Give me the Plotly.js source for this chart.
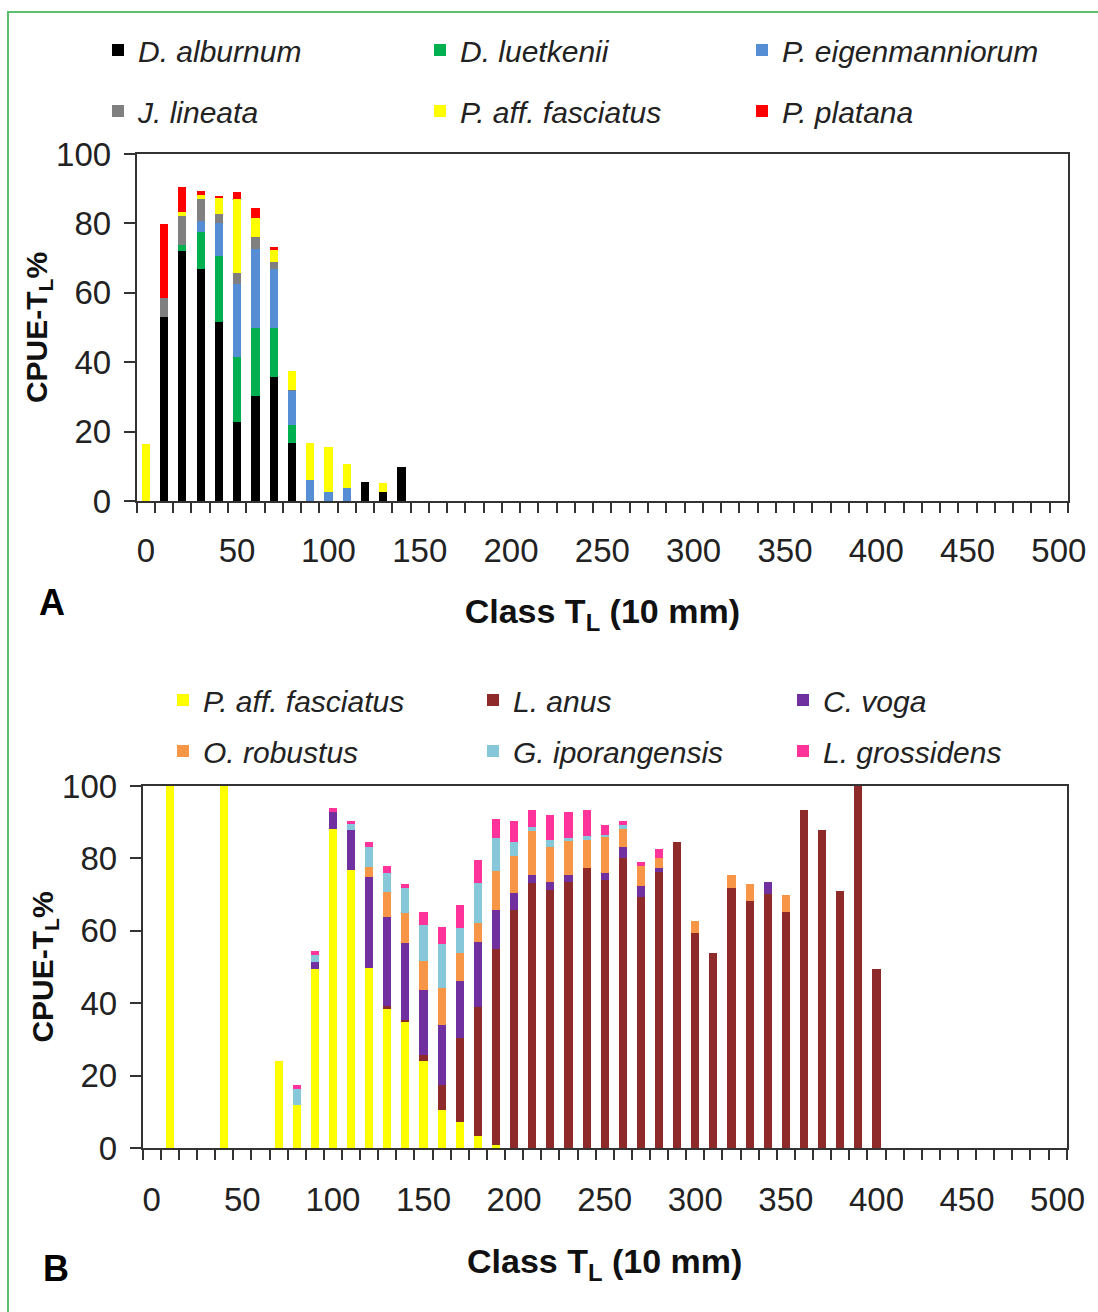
<!DOCTYPE html>
<html>
<head>
<meta charset="utf-8">
<script src="https://cdn.plot.ly/plotly-3.0.1.min.js"></script>
<style>
  html, body { margin: 0; padding: 0; background: #ffffff; }
  #chart { width: 1098px; height: 1312px; }
</style>
</head>
<body>
<div id="chart"></div>
<script>
// ---------- Panel A data ----------
const classesA = [0, 10, 20, 30, 40, 50, 60, 70, 80, 90, 100, 110, 120, 130, 140];
const dAlburnum        = [0, 53, 72, 67, 51.6, 22.9, 30.2, 35.7, 16.7, 0, 0, 0, 5.6, 2.6, 9.9];
const dLuetkenii       = [0, 0, 1.8, 10.5, 19.1, 18.7, 19.7, 14.2, 5.1, 0, 0, 0, 0, 0, 0];
const pEigenmanniorum  = [0, 0, 0, 3.2, 9.5, 20.8, 22.7, 17, 10, 6.1, 2.6, 3.8, 0, 0, 0];
const jLineata         = [0, 5.5, 8.4, 6.2, 2.6, 3.3, 3.5, 1.9, 0.3, 0, 0, 0, 0, 0, 0];
const pFasciatusA      = [16.4, 0, 1, 1.4, 4.5, 21.3, 5.5, 3.6, 5.5, 10.6, 13, 6.9, 0, 2.5, 0];
const pPlatana         = [0, 21.4, 7.4, 0.9, 0.7, 2, 2.7, 0.8, 0, 0, 0, 0, 0, 0, 0];

// ---------- Panel B data ----------
const classesB = [0, 10, 20, 30, 40, 50, 60, 70, 80, 90, 100, 110, 120, 130, 140, 150, 160, 170, 180, 190,
                  200, 210, 220, 230, 240, 250, 260, 270, 280, 290, 300, 310, 320, 330, 340, 350, 360, 370, 380, 390, 400];
const pFasciatusB   = [0, 100, 0, 0, 100, 0, 0, 24.1, 11.9, 49.5, 88, 76.7, 49.8, 38.4, 34.7, 23.9, 10.6, 7.2, 3.2, 0.9,
                       0, 0, 0, 0, 0, 0, 0, 0, 0, 0, 0, 0, 0, 0, 0, 0, 0, 0, 0, 0, 0];
const lAnus         = [0, 0, 0, 0, 0, 0, 0, 0, 0, 0, 0, 0, 0, 0.7, 0.7, 1.7, 6.8, 23.2, 35.7, 54.2,
                       65.7, 73.1, 71.4, 73.6, 77.3, 73.9, 80.1, 69.3, 76.2, 84.4, 59.4, 53.8, 71.8, 68.1, 70.2, 65.3, 93.3, 87.8, 71.1, 100, 49.5];
const cVoga         = [0, 0, 0, 0, 0, 0, 0, 0, 0, 1.9, 4.8, 11.1, 25, 24.8, 21.1, 18, 16.7, 15.7, 17.9, 10.7,
                       4.8, 2.2, 2.2, 1.7, 0, 2.1, 3, 3.2, 1.1, 0, 0, 0, 0, 0, 3.4, 0, 0, 0, 0, 0, 0];
const oRobustus     = [0, 0, 0, 0, 0, 0, 0, 0, 0, 0, 0, 0, 2.8, 6.7, 8.4, 8.1, 10.2, 7.9, 5.3, 10.6,
                       10.3, 12.2, 9.5, 9.4, 7.7, 9.9, 5, 5.4, 2.8, 0, 3.4, 0, 3.7, 4.9, 0, 4.6, 0, 0, 0, 0, 0];
const gIporangensis = [0, 0, 0, 0, 0, 0, 0, 0, 4.3, 1.8, 0, 1.8, 5.5, 5.4, 6.9, 10, 12, 6.9, 11, 9.2,
                       3.6, 1.2, 1.9, 0.9, 1.2, 0.7, 1.1, 0, 0, 0, 0, 0, 0, 0, 0, 0, 0, 0, 0, 0, 0];
const lGrossidens   = [0, 0, 0, 0, 0, 0, 0, 0, 1.2, 1.2, 1.1, 0.8, 1.4, 2, 1.2, 3.6, 4.8, 6.2, 6.5, 5.4,
                       6, 4.6, 7.1, 7.1, 7.1, 2.6, 1.1, 1.1, 2.6, 0, 0, 0, 0, 0, 0, 0, 0, 0, 0, 0, 0];

const xTickVals = [0, 50, 100, 150, 200, 250, 300, 350, 400, 450, 500];
const yTickVals = [0, 20, 40, 60, 80, 100];

const FONT = "'Liberation Sans', Arial, Helvetica, sans-serif";
const W = 1098, H = 1312;
const BARW = 4.5;

function bar(x, y, name, color, xa, ya, legend) {
  return {
    type: 'bar', x: x, y: y, name: name, width: BARW,
    marker: { color: color, line: { width: 0 } },
    xaxis: xa, yaxis: ya, legend: legend, hoverinfo: 'x+y+name'
  };
}

const traces = [
  bar(classesA, dAlburnum,       'D. alburnum',        '#000000', 'x', 'y', 'legend'),
  bar(classesA, dLuetkenii,      'D. luetkenii',       '#00B050', 'x', 'y', 'legend'),
  bar(classesA, pEigenmanniorum, 'P. eigenmanniorum',  '#558ED5', 'x', 'y', 'legend'),
  bar(classesA, jLineata,        'J. lineata',         '#808080', 'x', 'y', 'legend2'),
  bar(classesA, pFasciatusA,     'P. aff. fasciatus',  '#FFFF00', 'x', 'y', 'legend2'),
  bar(classesA, pPlatana,        'P. platana',         '#FF0000', 'x', 'y', 'legend2'),

  bar(classesB, pFasciatusB,   'P. aff. fasciatus', '#FFFF00', 'x2', 'y2', 'legend3'),
  bar(classesB, lAnus,         'L. anus',           '#8E2A2A', 'x2', 'y2', 'legend3'),
  bar(classesB, cVoga,         'C. voga',           '#7030A0', 'x2', 'y2', 'legend3'),
  bar(classesB, oRobustus,     'O. robustus',       '#F79646', 'x2', 'y2', 'legend4'),
  bar(classesB, gIporangensis, 'G. iporangensis',   '#86C8DA', 'x2', 'y2', 'legend4'),
  bar(classesB, lGrossidens,   'L. grossidens',     '#FF3399', 'x2', 'y2', 'legend4')
];

function xAxis(domain, anchor, labelOff, titleOff) {
  return {
    domain: domain, anchor: anchor, range: [-5, 505], type: 'linear',
    tickmode: 'array', tickvals: xTickVals, ticks: '',
    minor: { tick0: -5, dtick: 10, ticks: 'outside', ticklen: 10, tickwidth: 1.5, tickcolor: '#333', showgrid: false },
    showline: true, mirror: true, linecolor: '#333', linewidth: 2,
    showgrid: false, zeroline: false, fixedrange: true,
    tickfont: { family: FONT, size: 33, color: '#222' },
    ticklabelstandoff: labelOff,
    title: { text: 'Class T<sub>L</sub> (10 mm)', font: { family: FONT, size: 34, color: '#111', weight: 'bold' }, standoff: titleOff }
  };
}
function yAxis(domain, anchor) {
  return {
    domain: domain, anchor: anchor, range: [0, 100],
    tickmode: 'array', tickvals: yTickVals,
    ticks: 'outside', ticklen: 11, tickwidth: 1.5, tickcolor: '#333',
    showline: true, mirror: true, linecolor: '#333', linewidth: 2,
    showgrid: false, zeroline: false, fixedrange: true,
    tickfont: { family: FONT, size: 33, color: '#222' },
    ticklabelstandoff: 6,
    title: { text: 'CPUE-T<sub>L</sub>%', font: { family: FONT, size: 30, color: '#111', weight: 'bold' }, standoff: 0 }
  };
}

function legendAt(px, py, ew) {
  return {
    orientation: 'h', x: px / W, y: 1 - py / H, xanchor: 'left', yanchor: 'middle',
    xref: 'paper', yref: 'paper',
    entrywidth: ew, entrywidthmode: 'pixels', traceorder: 'normal',
    bgcolor: 'rgba(0,0,0,0)', borderwidth: 0, itemwidth: 30,
    font: { family: FONT, size: 30, color: '#222', style: 'italic' }
  };
}

const layout = {
  width: W, height: H,
  margin: { l: 0, r: 0, t: 0, b: 0 },
  paper_bgcolor: '#ffffff', plot_bgcolor: '#ffffff',
  barmode: 'stack',
  showlegend: true,
  xaxis:  xAxis([136.7 / W, 1068 / W], 'y', 19, 32),
  yaxis:  yAxis([1 - 501 / H, 1 - 154 / H], 'x'),
  xaxis2: xAxis([142.7 / W, 1066.7 / W], 'y2', 21, 33),
  yaxis2: yAxis([1 - 1148 / H, 1 - 786 / H], 'x2'),
  legend:  legendAt(98, 50, 277),
  legend2: legendAt(98, 111, 277),
  legend3: legendAt(163, 700, 265),
  legend4: legendAt(163, 751, 265),
  annotations: [
    { text: 'A', xref: 'paper', yref: 'paper', x: 52 / W, y: 1 - 602 / H, xanchor: 'center', yanchor: 'middle',
      showarrow: false, font: { family: FONT, size: 36, color: '#000', weight: 'bold' } },
    { text: 'B', xref: 'paper', yref: 'paper', x: 56 / W, y: 1 - 1268 / H, xanchor: 'center', yanchor: 'middle',
      showarrow: false, font: { family: FONT, size: 36, color: '#000', weight: 'bold' } }
  ],
  shapes: [
    { type: 'rect', xref: 'paper', yref: 'paper', x0: 8 / W, x1: 1.05, y0: -0.05, y1: 1 - 12 / H,
      line: { color: '#5BBF6E', width: 2 }, fillcolor: 'rgba(0,0,0,0)', layer: 'below' }
  ]
};

Plotly.newPlot('chart', traces, layout, { displayModeBar: false, responsive: false });
</script>
</body>
</html>
